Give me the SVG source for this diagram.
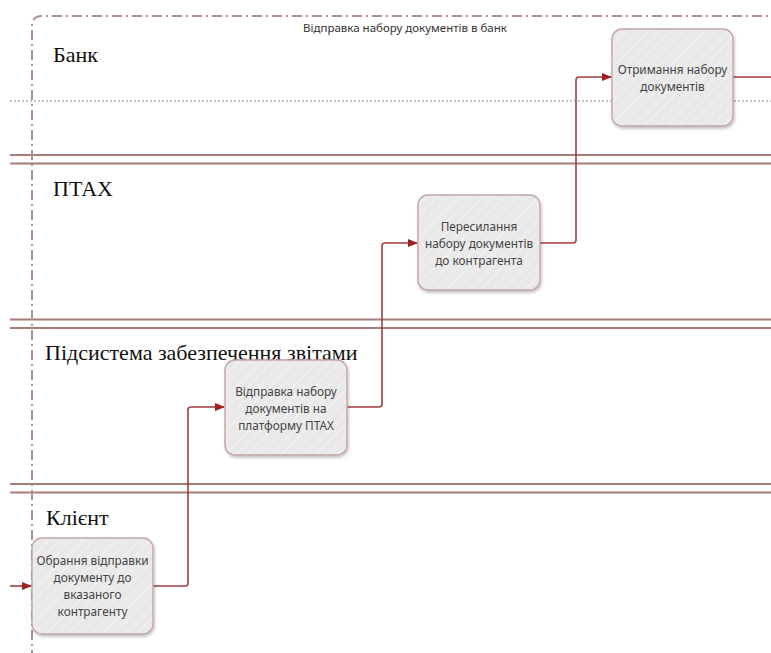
<svg xmlns="http://www.w3.org/2000/svg" width="771" height="653" viewBox="0 0 771 653">
<defs>
<style>
.lane{stroke:#a87a7a;stroke-width:1.8;fill:none}
.sep{stroke:#888;stroke-width:1;stroke-dasharray:2 2;fill:none}
.pool{stroke:#b08f8f;stroke-width:2;fill:none;stroke-dasharray:10 4 2 4}
.conn{stroke:#a53b3b;stroke-width:1.6;fill:none;stroke-linejoin:round}
.box{fill:url(#hatch);stroke:#c4a5a5;stroke-width:1.4;filter:url(#sh)}
.nt{font-family:"Noto Sans","Open Sans",sans-serif;font-size:11.8px;fill:#444;text-anchor:middle}
.lt{font-family:"Liberation Serif",serif;font-size:22px;fill:#111}
.tt{font-family:"Noto Sans","Open Sans",sans-serif;font-size:11.5px;fill:#333}
</style>
<pattern id="hatch" width="8" height="8" patternUnits="userSpaceOnUse" patternTransform="rotate(45)">
<rect width="8" height="8" fill="#e9e9e9"/>
<line x1="0" y1="0" x2="0" y2="8" stroke="#f3f3f3" stroke-width="2"/>
</pattern>
<filter id="sh" x="-10%" y="-10%" width="130%" height="130%">
<feDropShadow dx="1" dy="2" stdDeviation="1.5" flood-color="#000" flood-opacity="0.25"/>
</filter>
<marker id="arr" markerWidth="10" markerHeight="10" refX="9" refY="5" orient="auto" markerUnits="userSpaceOnUse">
<path d="M0,1 L10,5 L0,9 Z" fill="#a01f1f"/>
</marker>
</defs>
<rect width="771" height="653" fill="#fff"/>
<g id="lanes">
<line class="sep" x1="10" y1="101" x2="771" y2="101"/>
<line class="lane" x1="10" y1="155" x2="771" y2="155"/>
<line class="lane" x1="10" y1="163.5" x2="771" y2="163.5"/>
<line class="lane" x1="10" y1="319.5" x2="771" y2="319.5"/>
<line class="lane" x1="10" y1="328" x2="771" y2="328"/>
<line class="lane" x1="10" y1="484" x2="771" y2="484"/>
<line class="lane" x1="10" y1="492.5" x2="771" y2="492.5"/>
</g>
<g id="pool">
<path class="pool" d="M32,660 L32,26 Q32,16 42,16 L780,16"/>
<text class="tt" x="405" y="32" text-anchor="middle">Відправка набору документів в банк</text>
</g>
<g id="lane-labels">
<text class="lt" x="53" y="62">Банк</text>
<text class="lt" x="53" y="196">ПТАХ</text>
<text class="lt" x="45" y="360">Підсистема забезпечення звітами</text>
<text class="lt" x="46" y="525">Клієнт</text>
</g>
<g id="connectors">
<path class="conn" d="M10,586 L31,586" marker-end="url(#arr)"/>
<path class="conn" d="M153,586 L185,586 Q188,586 188,583 L188,410 Q188,407 191,407 L224,407" marker-end="url(#arr)"/>
<path class="conn" d="M347,407 L379,407 Q382,407 382,404 L382,246 Q382,243 385,243 L417,243" marker-end="url(#arr)"/>
<path class="conn" d="M540,243 L573,243 Q576,243 576,240 L576,80 Q576,77 579,77 L611,77" marker-end="url(#arr)"/>
<path class="conn" d="M733,77 L771,77"/>
</g>
<g id="n1">
<rect class="box" x="612" y="29" width="121" height="97" rx="10"/>
<text class="nt" x="672.5" y="74">Отримання набору</text>
<text class="nt" x="672.5" y="91">документів</text>
</g>
<g id="n2">
<rect class="box" x="418" y="195" width="122" height="95" rx="10"/>
<text class="nt" x="479" y="231">Пересилання</text>
<text class="nt" x="479" y="248">набору документів</text>
<text class="nt" x="479" y="265">до контрагента</text>
</g>
<g id="n3">
<rect class="box" x="225" y="360" width="122" height="95" rx="10"/>
<text class="nt" x="286" y="396">Відправка набору</text>
<text class="nt" x="286" y="413">документів на</text>
<text class="nt" x="286" y="430">платформу ПТАХ</text>
</g>
<g id="n4">
<rect class="box" x="32" y="538" width="121" height="96" rx="10"/>
<text class="nt" x="92.5" y="565">Обрання відправки</text>
<text class="nt" x="92.5" y="582">документу до</text>
<text class="nt" x="92.5" y="599">вказаного</text>
<text class="nt" x="92.5" y="616">контрагенту</text>
</g>
</svg>
